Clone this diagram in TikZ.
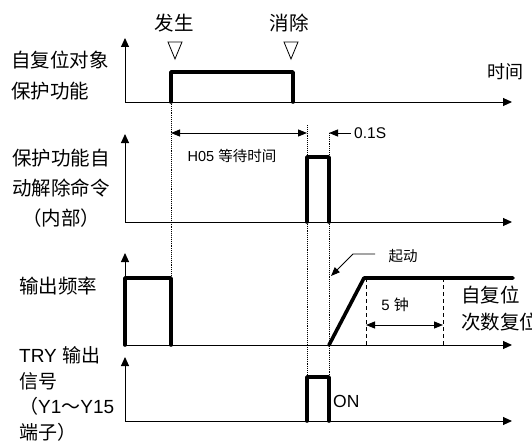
\documentclass[tikz,border=0pt]{standalone}
\usepackage{fontspec}
\setmainfont{Liberation Sans}
\newfontfamily\cjk{Noto Sans CJK SC}
\newcommand{\zh}[1]{{\cjk #1}}
\usetikzlibrary{arrows.meta,positioning}

\begin{document}
\begin{tikzpicture}[
    x=1pt, y=-1pt,
    >={Triangle[length=9pt,width=7pt]},
    axis/.style={-{Triangle[length=9pt,width=8pt]}, line width=1pt},
    pulse/.style={line width=3.6pt, line join=round, line cap=round},
    guide/.style={densely dotted, line width=0.9pt},
    dashguide/.style={dash pattern=on 4pt off 3pt, line width=0.9pt},
    dim/.style={line width=0.9pt},
    biglabel/.style={font=\fontsize{19.5}{31}\selectfont, inner sep=0pt},
    smalltext/.style={font=\fontsize{14.5}{16}\selectfont, inner sep=0pt}
]
\useasboundingbox (0,0) rectangle (532,444);

% time axes
\foreach \y/\top [count=\i] in {102/38, 222/134, 345/253, 421/357} {
  \coordinate (o\i) at (125,\y);
  \draw[axis] (o\i) -- (125,\top);
  \draw[axis] (o\i) -- (512,\y);
}

% signal traces
\draw[pulse] (171,102) -- (171,72) -- (293,72) -- (293,102);
\draw[pulse] (307,222) -- (307,157) -- (329,157) -- (329,222);
\draw[pulse] (125,345) -- (125,278) -- (171,278) -- (171,345);
\draw[pulse] (329,345) -- (364,278) -- (513,278);
\draw[pulse] (307,421) -- (307,377) -- (329,377) -- (329,421);

% guide lines
\draw[guide] (171,102) -- (171,278);
\draw[guide] (307,125) -- (307,377);
\draw[guide] (329,133) -- (329,377);
\draw[dashguide] (366,278) -- (366,345);
\draw[dashguide] (443,278) -- (443,345);

% event markers
\node[biglabel] (occur) at (174,23) {\zh{发生}};
\node[biglabel] (clear) at (289,23) {\zh{消除}};
\foreach \x in {175,291}
  \draw[line width=0.8pt] (\x-7,42) -- (\x+7,42) -- (\x,59) -- cycle;
\node[biglabel, font=\fontsize{18}{20}\selectfont] (time) at (505,72) {\zh{时间}};

% timing annotations
\coordinate (h1) at (171,133);
\coordinate (h2) at (307,133);
\draw[dim, <->] (h1) -- (h2);
\node[smalltext] (wait) at (232,156) {H05 \zh{等待时间}};
\coordinate (s1) at (351,133);
\coordinate (s2) at (329,133);
\draw[dim, ->] (s1) -- (s2);
\node[smalltext, font=\fontsize{15.5}{17}\selectfont, anchor=west] (dur) at (354,133) {0.1S};
\coordinate (k1) at (375,254);
\coordinate (k2) at (353,254);
\coordinate (k3) at (331,276);
\draw[dim, ->] (k1) -- (k2) -- (k3);
\node[smalltext] (start) at (403,256) {\zh{起动}};
\coordinate (m1) at (366,325);
\coordinate (m2) at (443,325);
\draw[dim, <->] (m1) -- (m2);
\node[smalltext, font=\fontsize{15}{17}\selectfont] (five) at (395,305) {5 \zh{钟}};
\node[biglabel, align=left, anchor=west, font=\fontsize{19.5}{27}\selectfont] (reset) at (461,309) {\zh{自复位}\\\zh{次数复位}};
\node[smalltext, font=\fontsize{17.5}{20}\selectfont, anchor=west] (on) at (333,401) {ON};

% signal names
\node[biglabel, align=left, anchor=west] (sig1) at (11,76) {\zh{自复位对象}\\\zh{保护功能}};
\node[biglabel, align=center, font=\fontsize{19.5}{30}\selectfont] (sig2) at (61,188) {\zh{保护功能自}\\\zh{动解除命令}\\\zh{（内部）}};
\node[biglabel, anchor=west] (sig3) at (19,286) {\zh{输出频率}};
\node[biglabel, align=left, anchor=west, font=\fontsize{19}{25.7}\selectfont] (sig4) at (19,394) {TRY \zh{输出}\\\zh{信号}\\\zh{（}Y1\zh{～}Y15\\\zh{端子）}};
\end{tikzpicture}
\end{document}
